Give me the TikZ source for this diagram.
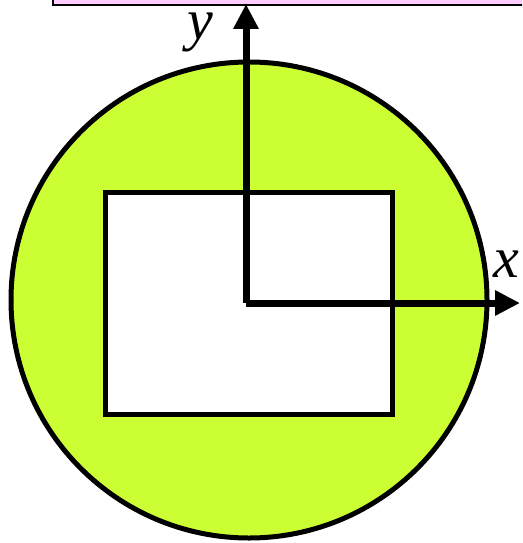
\documentclass[tikz,border=0pt]{standalone}
\usepackage{fontspec}
\setmainfont{Liberation Serif}
\newfontfamily\labelfont{Liberation Serif Italic}
\usetikzlibrary{arrows.meta}
\definecolor{lime}{HTML}{CCFF33}
\definecolor{pinkbox}{HTML}{FFCCFF}
\begin{document}
\begin{tikzpicture}[x=1pt,y=-1pt,
  outline/.style={draw=black,line width=5pt},
  axis/.style={line width=7pt,-{Triangle[length=25pt,width=24pt]}},
  lbl/.style={font=\labelfont\fontsize{58}{58}\selectfont,inner sep=0pt,text height=27pt,text depth=13pt,anchor=base}]
\useasboundingbox (0,0) rectangle (522,543);
\begin{scope}
\clip (0,0) rectangle (522,543);
\node[draw=black,line width=2pt,fill=pinkbox,minimum width=480pt,minimum height=40pt,anchor=south west,inner sep=0pt] (top) at (52,6) {};
\end{scope}
\node[circle,outline,fill=lime,minimum size=476pt,inner sep=0pt] (disk) at (249,300) {};
\node[outline,fill=white,minimum width=287pt,minimum height=222pt,inner sep=0pt,anchor=north west] (hole) at (103,190) {};
\coordinate (o) at (246,303);
\coordinate (xend) at (520,303);
\coordinate (yend) at (246,4);
\draw[axis] (o) -- (xend);
\draw[axis] (o) -- (yend);
\node[lbl] (ylab) at (200,40) {y};
\node[lbl] (xlab) at (506,277) {x};
\end{tikzpicture}
\end{document}
